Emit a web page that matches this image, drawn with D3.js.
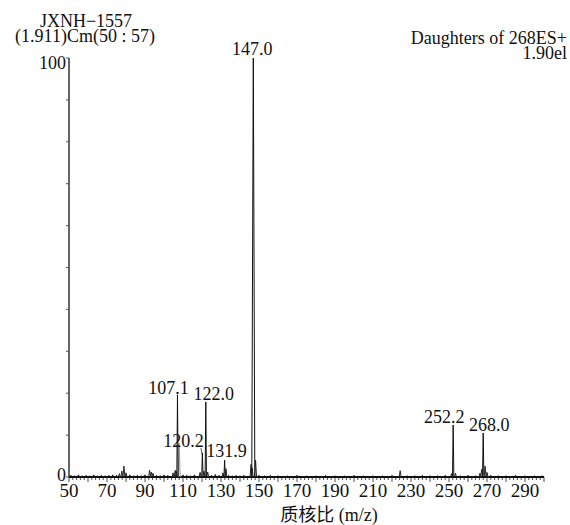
<!DOCTYPE html>
<html>
<head>
<meta charset="utf-8">
<script src="https://cdn.jsdelivr.net/npm/d3@7"></script>
<style>
body { margin: 0; background: #fff; }
text { font-family: "Liberation Serif", "Noto Sans CJK SC", serif; fill: #111; }
</style>
</head>
<body>
<div id="chart"></div>
<script>
// labelled peaks (m/z, relative intensity %)
var peakMz = [107.1, 120.2, 122.0, 131.9, 147.0, 252.2, 268.0]
var peakInt = [19.6, 5.7, 17.9, 4.0, 100, 12.4, 10.5]
var peakLabels = ["107.1", "120.2", "122.0", "131.9", "147.0", "252.2", "268.0"]

// small unlabelled peaks
var minorMz = [76.5, 77.8, 78.9, 80.0, 92.4, 93.3, 94.2, 104.8, 105.9, 106.5, 108.0, 119.0, 121.0, 123.0, 131.0, 132.6, 145.8, 146.4, 148.2, 224.3, 251.3, 253.4, 266.3, 267.2, 269.0, 270.0]
var minorInt = [0.8, 1.4, 2.6, 1.0, 1.6, 1.2, 0.9, 1.0, 1.6, 1.3, 8.0, 1.1, 1.4, 1.2, 1.0, 2.0, 3.0, 2.2, 4.0, 1.5, 0.8, 0.9, 0.9, 1.8, 2.6, 1.1]

// baseline noise
var noiseMz = [51, 53, 55, 57, 59, 61, 63, 65, 67, 69, 71, 73, 75, 82, 84, 86, 88, 90, 96, 98, 100, 102, 110, 112, 114, 116, 125, 127, 129, 134, 136, 138, 140, 142, 150, 153, 156, 160, 165, 170, 175, 180, 185, 190, 195, 200, 205, 210, 215, 220, 228, 232, 236, 240, 244, 248, 256, 260, 264, 272, 276, 280, 285, 290, 295, 299]
var noiseInt = [0.4, 0.3, 0.5, 0.3, 0.4, 0.3, 0.5, 0.3, 0.4, 0.3, 0.4, 0.5, 0.4, 0.5, 0.3, 0.4, 0.3, 0.5, 0.4, 0.3, 0.5, 0.4, 0.5, 0.4, 0.3, 0.5, 0.4, 0.6, 0.4, 0.4, 0.3, 0.4, 0.3, 0.4, 0.4, 0.3, 0.4, 0.3, 0.3, 0.4, 0.3, 0.3, 0.4, 0.3, 0.3, 0.4, 0.3, 0.3, 0.3, 0.4, 0.3, 0.3, 0.4, 0.3, 0.3, 0.4, 0.3, 0.4, 0.3, 0.4, 0.3, 0.3, 0.4, 0.3, 0.3, 0.3]

var xTicks = [50, 70, 90, 110, 130, 150, 170, 190, 210, 230, 250, 270, 290]

var w = 570, h = 525

var svg = d3.select("#chart")
	.append("svg")
	.attr("width", w)
	.attr("height", h)

var x = d3.scaleLinear().domain([50, 300]).range([69, 544])
var y = d3.scaleLinear().domain([0, 100]).range([477, 58])

// label offsets so labels don't collide (dx in px, dy baseline gap in px)
var labelPos = [
	{dx: -9, dy: 1},
	{dx: -19, dy: 6},
	{dx: 8, dy: 2},
	{dx: 2, dy: 3},
	{dx: -1, dy: 3},
	{dx: -9, dy: 2},
	{dx: 6, dy: 2}
]

// header texts
svg.append("text").attr("x", 86).attr("y", 27).attr("text-anchor", "middle")
	.style("font-size", "18px").text("JXNH\u22121557")
svg.append("text").attr("x", 85).attr("y", 42).attr("text-anchor", "middle")
	.style("font-size", "18px").text("(1.911)Cm(50 : 57)")
svg.append("text").attr("x", 567).attr("y", 44).attr("text-anchor", "end")
	.style("font-size", "18px").text("Daughters of 268ES+")
svg.append("text").attr("x", 567).attr("y", 59).attr("text-anchor", "end")
	.style("font-size", "18px").text("1.90el")

// y axis
var yAxisG = svg.append("g")
yAxisG.append("line")
	.attr("x1", x(50)).attr("x2", x(50))
	.attr("y1", y(100)).attr("y2", y(0))
	.style("stroke", "#666").style("stroke-width", 2)
yAxisG.selectAll(".ytick")
	.data(d3.range(0, 101, 10))
	.enter()
	.append("line")
	.attr("x1", x(50) - 3).attr("x2", x(50))
	.attr("y1", function(d) {return y(d)})
	.attr("y2", function(d) {return y(d)})
	.style("stroke", "#555").style("stroke-width", 1)
yAxisG.append("text").attr("x", 66).attr("y", y(100) + 11).attr("text-anchor", "end")
	.style("font-size", "18px").text("100")
yAxisG.append("text").attr("x", 66).attr("y", y(0) + 4).attr("text-anchor", "end")
	.style("font-size", "18px").text("0")

// x axis
var xAxisG = svg.append("g")
xAxisG.selectAll(".minor")
	.data(d3.range(50, 301, 2))
	.enter()
	.append("line")
	.attr("x1", function(d) {return x(d)})
	.attr("x2", function(d) {return x(d)})
	.attr("y1", y(0))
	.attr("y2", function(d) {return y(0) + (d % 10 == 0 ? 5 : 3)})
	.style("stroke", "#222").style("stroke-width", 0.8)
xAxisG.selectAll(".xlab")
	.data(xTicks)
	.enter()
	.append("text")
	.attr("x", function(d) {return x(d)})
	.attr("y", 497)
	.attr("text-anchor", "middle")
	.style("font-size", "19px")
	.text(function(d) {return d})
xAxisG.append("text").attr("x", 329).attr("y", 521).attr("text-anchor", "middle")
	.style("font-size", "18px").text("质核比 (m/z)")

// baseline noise trace
var noise = noiseMz.map(function(d, i) {return [d, noiseInt[i]]})
var noisePts = []
noise.forEach(function(d) {
	noisePts.push([d[0] - 0.5, 0], [d[0], d[1]], [d[0] + 0.5, 0])
})
svg.append("path")
	.attr("d", d3.line().x(function(d) {return x(d[0])}).y(function(d) {return y(d[1])})(noisePts))
	.style("fill", "none").style("stroke", "#111").style("stroke-width", 1)

svg.append("line")
	.attr("x1", x(50)).attr("x2", x(300))
	.attr("y1", y(0)).attr("y2", y(0))
	.style("stroke", "#111").style("stroke-width", 2)

function peakPath(mz, val, hw) {
	return d3.line().x(function(d) {return x(d[0])}).y(function(d) {return y(d[1])})(
		[[mz - hw, 0], [mz, val], [mz + hw, 0]])
}

// minor peaks
svg.selectAll(".minorPeak")
	.data(minorMz.map(function(d, i) {return {mz: d, v: minorInt[i]}}))
	.enter()
	.append("path")
	.attr("d", function(d) {return peakPath(d.mz, d.v, 0.5)})
	.style("fill", "none")
	.style("stroke", function(d) {return d.v > 5 ? "#999" : "#222"})
	.style("stroke-width", 1)

// labelled peaks
var peaks = peakMz.map(function(d, i) {return {mz: d, v: peakInt[i], label: peakLabels[i], pos: labelPos[i]}})

svg.selectAll(".peak")
	.data(peaks)
	.enter()
	.append("path")
	.attr("d", function(d) {return peakPath(d.mz, d.v, d.v > 50 ? 0.8 : 0.35)})
	.style("fill", "none")
	.style("stroke", "#111")
	.style("stroke-width", 1)

svg.selectAll(".plabel")
	.data(peaks)
	.enter()
	.append("text")
	.attr("x", function(d) {return x(d.mz) + d.pos.dx})
	.attr("y", function(d) {return y(d.v) - d.pos.dy})
	.attr("text-anchor", "middle")
	.style("font-size", "18px")
	.text(function(d) {return d.label})

// leader from 120.2 label to its peak
svg.append("line")
	.attr("x1", x(120.2) - 1.5).attr("y1", y(peakInt[1]) - 5)
	.attr("x2", x(120.2)).attr("y2", y(peakInt[1]) + 2)
	.style("stroke", "#222").style("stroke-width", 0.8)
</script>
</body>
</html>
